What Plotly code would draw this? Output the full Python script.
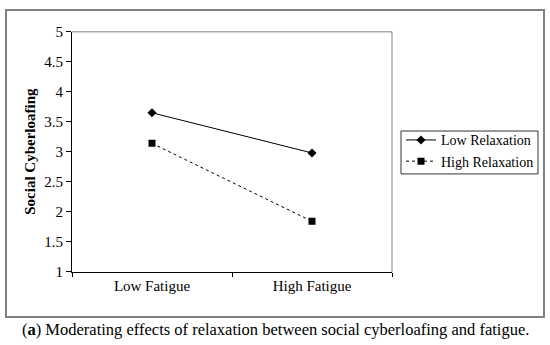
import plotly.graph_objects as go

categories = ["Low Fatigue", "High Fatigue"]
low_relaxation = [3.65, 2.98]
high_relaxation = [3.14, 1.84]
series_names = ["Low Relaxation", "High Relaxation"]
y_title = "Social Cyberloafing"
caption = "(<b>a</b>) Moderating effects of relaxation between social cyberloafing and fatigue."

W, H = 550, 345
fig = go.Figure()
fig.add_trace(go.Scatter(
    x=categories, y=low_relaxation, name=series_names[0], mode="lines+markers",
    line=dict(color="#000000", width=1),
    marker=dict(symbol="diamond", size=7, color="#000000"),
))
fig.add_trace(go.Scatter(
    x=categories, y=high_relaxation, name=series_names[1], mode="lines+markers",
    line=dict(color="#000000", width=1, dash="dot"),
    marker=dict(symbol="square", size=7, color="#000000"),
))

serif = "Liberation Serif"
x0, x1 = 72 / W, 392 / W
y1, y0 = 1 - 25 / H, 1 - 276.5 / H

fig.update_layout(
    width=W, height=H, autosize=False, margin=dict(l=0, r=0, t=0, b=0, pad=0),
    paper_bgcolor="white", plot_bgcolor="white",
    font=dict(family=serif, size=14, color="#000000"),
    xaxis=dict(domain=[x0, x1], type="category", range=[-0.5, 1.5],
               showline=True, linecolor="#000000", linewidth=1,
               ticks="outside", tickson="boundaries", ticklen=4, tickcolor="#000000",
               showgrid=False, zeroline=False, tickfont=dict(size=15, family=serif)),
    yaxis=dict(domain=[y0, y1], range=[1, 5], dtick=0.5, tick0=1,
               showline=True, linecolor="#000000", linewidth=1,
               ticks="outside", ticklen=5, tickcolor="#000000",
               showgrid=False, zeroline=False, tickfont=dict(size=15, family=serif)),
    legend=dict(x=401 / W, y=1 - 122 / H, xanchor="left", yanchor="top",
                borderwidth=0, bgcolor="rgba(0,0,0,0)",
                font=dict(size=14, family=serif), tracegroupgap=0,
                itemwidth=30),
    showlegend=True,
)

# legend box
fig.add_shape(type="rect", xref="paper", yref="paper",
              x0=401 / W, x1=538 / W, y0=1 - 174 / H, y1=1 - 129 / H,
              line=dict(color="#333333", width=1), layer="below")
# plot area top/right border (grey)
fig.add_shape(type="line", xref="paper", yref="paper", x0=x0, x1=x1, y0=y1, y1=y1,
              line=dict(color="#808080", width=1))
fig.add_shape(type="line", xref="paper", yref="paper", x0=x1, x1=x1, y0=y0, y1=y1,
              line=dict(color="#808080", width=1))
# outer frame
fig.add_shape(type="rect", xref="paper", yref="paper",
              x0=6 / W, x1=544 / W, y0=1 - 324 / H, y1=1 - 2 / H,
              line=dict(color="#808080", width=2))

fig.add_annotation(x=30 / W, y=(y0 + y1) / 2, xref="paper", yref="paper",
                   text="<b>" + y_title + "</b>", textangle=-90, showarrow=False,
                   xanchor="center", yanchor="middle",
                   font=dict(size=15, family=serif))
fig.add_annotation(x=0.5, y=1 - 337 / H, xref="paper", yref="paper",
                   text=caption, showarrow=False, xanchor="center", yanchor="middle",
                   font=dict(size=16.5, family=serif, color="#000000"))

fig.write_html("out.html", config={"displayModeBar": False},
               post_script="document.body.style.margin='0px';")
